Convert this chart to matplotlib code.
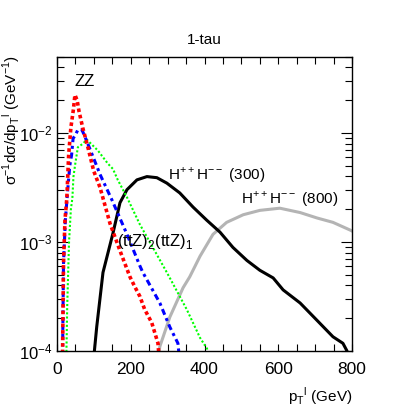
import matplotlib
matplotlib.use('Agg')

import numpy as np
import matplotlib.pyplot as plt
from matplotlib.ticker import MultipleLocator, FixedLocator, LogLocator, NullFormatter

# values: pT (GeV) and log10 of the normalised distribution
zz_pt = [15, 18, 22, 27, 32, 38, 45, 49, 55, 60, 70, 84, 100, 117, 144, 171, 198, 211, 225,
         238, 257, 274, 280]
zz_log = [-4.2, -3.2, -2.8, -2.6, -2.2, -1.95, -1.78, -1.65, -1.7, -1.8, -1.95, -2.13, -2.35,
          -2.5, -2.83, -3.08, -3.32, -3.41, -3.5, -3.62, -3.74, -3.93, -4.2]

ttz2_pt = [15, 18, 23, 30, 35, 40, 44, 50, 57, 68, 78, 90, 117, 150, 190, 225, 233, 279,
           306, 328, 336]
ttz2_log = [-4.2, -3.2, -2.8, -2.5, -2.3, -2.2, -2.05, -2.02, -1.97, -1.97, -2.05, -2.15,
            -2.38, -2.62, -2.93, -3.22, -3.28, -3.56, -3.78, -3.93, -4.2]

ttz1_pt = [25, 28, 33, 38, 42, 45, 50, 57, 70, 81, 111, 138, 152, 165, 190, 225, 260, 298,
           314, 352, 388, 407, 415]
ttz1_log = [-4.2, -3.6, -3.0, -2.7, -2.6, -2.4, -2.28, -2.13, -2.1, -2.06, -2.16, -2.28, -2.33,
            -2.43, -2.59, -2.84, -3.05, -3.28, -3.38, -3.62, -3.88, -3.98, -4.2]

h300_pt = [96, 108, 125, 152, 171, 190, 217, 244, 271, 298, 333, 369, 406, 442, 477, 515,
           550, 586, 613, 659, 705, 748, 775, 786, 790]
h300_log = [-4.2, -3.78, -3.28, -2.92, -2.64, -2.52, -2.43, -2.40, -2.41, -2.46, -2.55, -2.68,
            -2.80, -2.91, -3.05, -3.17, -3.26, -3.33, -3.44, -3.56, -3.72, -3.87, -3.93, -4.0, -4.2]

h800_pt = [268, 279, 306, 342, 360, 388, 423, 460, 505, 550, 604, 659, 705, 748, 794, 800]
h800_log = [-4.2, -3.96, -3.69, -3.42, -3.32, -3.13, -2.93, -2.82, -2.75, -2.71, -2.69, -2.73,
            -2.78, -2.82, -2.89, -2.9]

plt.rcParams['font.family'] = ['Liberation Sans', 'DejaVu Sans']

fig = plt.figure(figsize=(4.09, 4.09), dpi=100)
ax = fig.add_axes([0.139, 0.142, 0.722, 0.719])

ax.plot(h800_pt, 10 ** np.array(h800_log), color='#b4b4b4', lw=2.2)
ax.plot(h300_pt, 10 ** np.array(h300_log), color='black', lw=2.2)
ax.plot(ttz1_pt, 10 ** np.array(ttz1_log), color='#00ff00', lw=1.5, ls=(0, (1, 1)))
ax.plot(ttz2_pt, 10 ** np.array(ttz2_log), color='blue', lw=2.2, ls=(0, (2, 1.2, 1, 1.2)))
ax.plot(zz_pt, 10 ** np.array(zz_log), color='red', lw=2.6, ls=(0, (1, 0.8)))

ax.set_yscale('log')
ax.set_xlim(0, 800)
ax.set_ylim(1e-4, 5e-2)

ax.xaxis.set_major_locator(FixedLocator([0, 200, 400, 600, 800]))
ax.xaxis.set_minor_locator(MultipleLocator(50))
ax.yaxis.set_major_locator(FixedLocator([1e-4, 1e-3, 1e-2]))
ax.yaxis.set_minor_locator(LogLocator(base=10, subs=np.arange(2, 10)))
ax.yaxis.set_minor_formatter(NullFormatter())
ax.set_yticklabels([r'$\mathregular{10^{-4}}$', r'$\mathregular{10^{-3}}$', r'$\mathregular{10^{-2}}$'])

ax.tick_params(which='both', direction='in', top=True, right=True, width=0.8)
ax.tick_params(which='major', length=8)
ax.tick_params(which='minor', length=5)
ax.tick_params(axis='x', which='major', length=5, pad=8, labelsize=12.5)
ax.tick_params(axis='y', pad=3, labelsize=12)
for s in ax.spines.values():
    s.set_linewidth(1.0)

ax.set_title('1-tau', fontsize=11, pad=9)
ax.set_xlabel(r'p$_\mathregular{T}$$^\mathregular{l}$ (GeV)', fontsize=11, loc='right', labelpad=6)
ax.set_ylabel(r'$\mathregular{\sigma^{-1}}$d$\mathregular{\sigma}$/dp$_\mathregular{T}$$^\mathregular{l}$ (GeV$^\mathregular{-1}$)',
              fontsize=11, loc='top')
ax.yaxis.set_label_coords(-0.119, 1.005)

ax.text(49, 2.95e-2, 'ZZ', fontsize=12, va='center')
ax.text(163, 1.0e-3, r'(ttZ)$_\mathregular{2}$(ttZ)$_\mathregular{1}$', fontsize=12, va='center')
ax.text(301, 4.1e-3, r'H$^\mathregular{++}$H$^\mathregular{--}$ (300)', fontsize=11, va='center')
ax.text(499, 2.45e-3, r'H$^\mathregular{++}$H$^\mathregular{--}$ (800)', fontsize=11, va='center')

fig.savefig('out.png', dpi=100)
